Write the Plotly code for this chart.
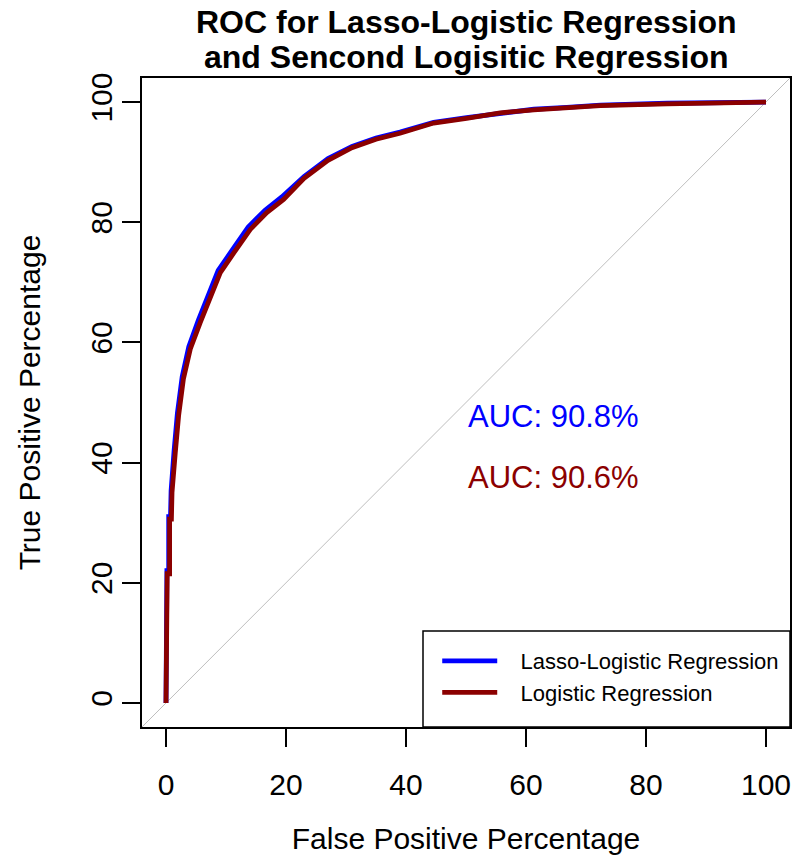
import plotly.graph_objects as go

# ---- data ----
lasso_fpr = [0, 0, 0.15, 0.15, 0.45, 0.45, 0.75, 0.85, 1.35, 1.9, 2.7, 3.8, 5.4, 7.1, 8.7, 11.0, 13.7, 16.5, 19.3,
             23.0, 27.0, 31.0, 35.0, 39.0, 44.6, 50.1, 55.7, 61.3, 66.8, 72.4, 83.5, 94.6, 100]
lasso_tpr = [0, 11.5, 11.5, 22.0, 22.0, 31.0, 31.0, 35.3, 42.0, 48.2, 54.3, 59.3, 63.7, 68.1, 72.0, 75.3, 79.2, 82.0,
             84.2, 87.6, 90.6, 92.6, 94.0, 95.0, 96.6, 97.4, 98.2, 98.8, 99.1, 99.5, 99.8, 99.9, 100]

logit_fpr = [0, 0, 0.2, 0.2, 0.6, 0.6, 0.9, 1.0, 1.55, 2.1, 2.9, 4.05, 5.7, 7.4, 9.05, 11.3, 14.05, 16.8, 19.6,
             23.0, 27.0, 31.0, 35.0, 39.0, 44.6, 50.1, 55.7, 61.3, 66.8, 72.4, 83.5, 94.6, 100]
logit_tpr = [0, 11.0, 11.0, 21.5, 21.5, 30.6, 30.6, 35.0, 41.7, 47.8, 53.9, 58.9, 63.3, 67.7, 71.6, 74.9, 78.8, 81.6,
             83.8, 87.3, 90.3, 92.4, 93.8, 94.8, 96.5, 97.3, 98.2, 98.7, 99.0, 99.4, 99.7, 99.9, 100]

series_names = ["Lasso-Logistic Regression", "Logistic Regression"]
auc_labels = ["AUC: 90.8%", "AUC: 90.6%"]
auc_y = [47.6, 37.6]
auc_x = 50
tick_vals = [0, 20, 40, 60, 80, 100]
axis_range = [-4, 104]

BLUE = "#0000FF"
DARKRED = "#8B0000"
FONT = "Liberation Sans, Arial, sans-serif"
PAD = "\u00a0\u00a0\u00a0"

fig = go.Figure()

# chance diagonal (abline a=0, b=1)
fig.add_trace(go.Scatter(x=axis_range, y=axis_range, mode="lines",
                         line=dict(color="#BEBEBE", width=1), showlegend=False, hoverinfo="skip"))

fig.add_trace(go.Scatter(x=lasso_fpr, y=lasso_tpr, mode="lines", name=PAD + series_names[0],
                         line=dict(color=BLUE, width=4.8)))
fig.add_trace(go.Scatter(x=logit_fpr, y=logit_tpr, mode="lines", name=PAD + series_names[1],
                         line=dict(color=DARKRED, width=4.8)))

for lab, yy, col in zip(auc_labels, auc_y, [BLUE, DARKRED]):
    fig.add_annotation(x=auc_x, y=yy, xref="x", yref="y", text=lab, showarrow=False,
                       xanchor="left", yanchor="middle", font=dict(size=31, color=col, family=FONT))

# title (two lines)
fig.add_annotation(x=0.5, y=(727 - 22) / 649, xref="paper", yref="paper",
                   text="<b>ROC for Lasso-Logistic Regression</b>", showarrow=False,
                   xanchor="center", yanchor="middle", font=dict(size=32, color="black", family=FONT))
fig.add_annotation(x=0.5, y=(727 - 57) / 649, xref="paper", yref="paper",
                   text="<b>and Sencond Logisitic Regression</b>", showarrow=False,
                   xanchor="center", yanchor="middle", font=dict(size=32, color="black", family=FONT))

# legend frame
fig.add_shape(type="rect", xref="paper", yref="paper",
              x0=(423 - 142) / 648, x1=1.0, y0=0.0, y1=(727 - 631) / 649,
              line=dict(color="black", width=1.5), fillcolor="white", layer="above")

axis_common = dict(range=axis_range, tickvals=tick_vals, ticks="outside", ticklen=18, tickwidth=1.5,
                   tickcolor="black", showgrid=False, zeroline=False, showline=True, mirror=True,
                   linecolor="black", linewidth=1.5,
                   tickfont=dict(size=30, color="black", family=FONT))

fig.update_xaxes(**axis_common, ticklabelstandoff=12,
                 title=dict(text="False Positive Percentage", standoff=28,
                            font=dict(size=30, color="black", family=FONT)))
fig.update_yaxes(**axis_common, tickangle=-90, ticklabelstandoff=-2,
                 title=dict(text="True Positive Percentage", standoff=36,
                            font=dict(size=30, color="black", family=FONT)))

fig.update_layout(
    width=794, height=866,
    margin=dict(l=142, r=4, t=78, b=139, autoexpand=False),
    plot_bgcolor="white", paper_bgcolor="white",
    font=dict(family=FONT, color="black"),
    legend=dict(x=(445 - 142) / 648 - 0.012, y=(727 - 640) / 649, xanchor="left", yanchor="top",
                bgcolor="rgba(0,0,0,0)", borderwidth=0, itemwidth=55,
                font=dict(size=22, color="black", family=FONT)),
)

fig.write_html("out.html", config={"displayModeBar": False},
               post_script="document.body.style.margin='0px';")
